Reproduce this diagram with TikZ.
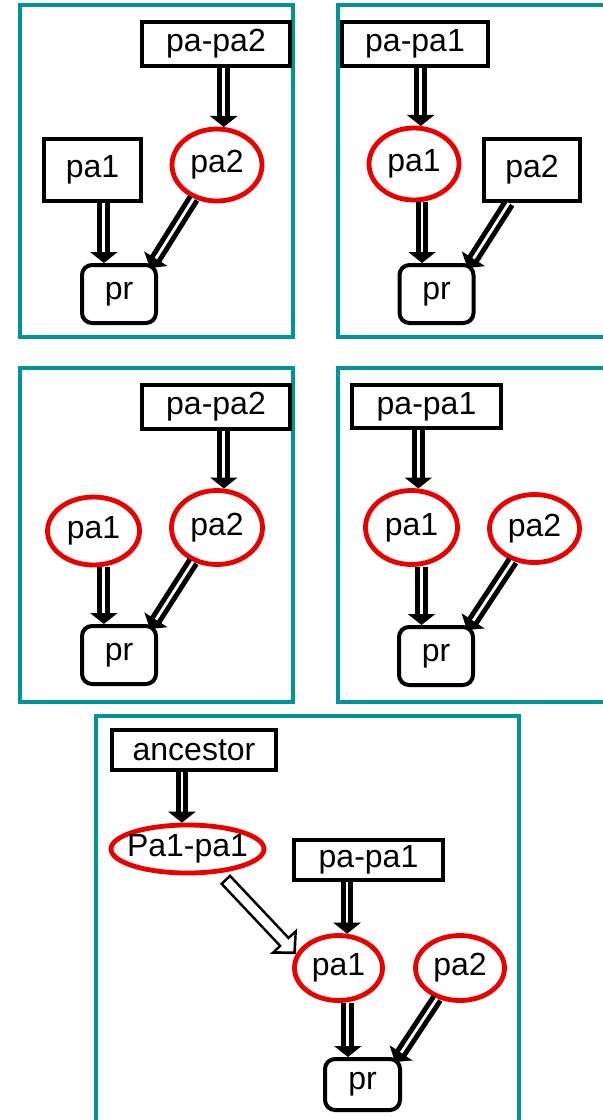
\documentclass[tikz,border=0pt]{standalone}
\usepackage{fontspec}
\setmainfont{Liberation Sans}
\usetikzlibrary{arrows.meta, shapes.geometric}
\definecolor{myteal}{RGB}{0,147,153}
\definecolor{myred}{RGB}{235,0,0}

\tikzset{
  panel/.style={draw=myteal, line width=2pt},
  box/.style={draw, line width=2pt, inner sep=0pt},
  var/.style={ellipse, draw=myred, line width=2.4pt, inner sep=0pt},
  target/.style={box, rounded corners=5pt, minimum width=37pt, minimum height=29pt},
  link/.style={double, double distance=1.4pt, line width=2.5pt,
    -{Triangle[width=13.5pt, length=5.5pt]}},
  % outlined block arrow: black body first, white inside on top
  bigout/.style={line width=7pt, shorten <=4pt,
    -{Triangle[width=18pt, length=9pt]}},
  bigin/.style={white, line width=4.4pt, shorten <=5.3pt, shorten >=1.85pt,
    -{Triangle[width=11.7pt, length=5.9pt]}}
}

\begin{document}
\begin{tikzpicture}[x=0.5pt, y=-0.5pt, font=\fontsize{16}{19}\selectfont]
\useasboundingbox (0,0) rectangle (603,1120);
\clip (0,0) rectangle (603,1120);

% panel frames
\draw[panel] (20,5) rectangle (293,337);
\draw[panel] (338,5) rectangle (640,337);
\draw[panel] (20,368) rectangle (293,702);
\draw[panel] (338,368) rectangle (640,702);
\draw[panel] (96,716) rectangle (519,1140);

% top left
\begin{scope}[name prefix=a-]
\node[box, minimum width=74pt, minimum height=22pt] (papa2) at (216,44) {pa-pa2};
\node[box, minimum width=48.5pt, minimum height=31pt] (pa1) at (92.5,170) {pa1};
\node[var, minimum width=45pt, minimum height=36pt] (pa2) at (217,165) {pa2};
\node[target] (pr) at (119,294) {pr};
\draw[link] (pa2.80 |- papa2.south) -- (pa2.80);
\draw[link] (pr.116 |- pa1.south) -- (pr.116);
\draw[link] (pa2.235) -- ([xshift=-4pt, yshift=-2.5pt]pr.north east);
\end{scope}

% top right
\begin{scope}[name prefix=b-]
\node[box, minimum width=73pt, minimum height=22pt] (papa1) at (415,44) {pa-pa1};
\node[var, minimum width=45pt, minimum height=36pt] (pa1) at (414,164) {pa1};
\node[box, minimum width=48pt, minimum height=31pt] (pa2) at (532,170) {pa2};
\node[target] (pr) at (436.5,294) {pr};
\draw[link] (pa1.80 |- papa1.south) -- (pa1.80);
\draw[link] (pr.115 |- pa1.south) -- (pr.115);
\draw[link] (pa2.235) -- ([xshift=-4pt, yshift=-2.5pt]pr.north east);
\end{scope}

% middle left
\begin{scope}[name prefix=c-]
\node[box, minimum width=74pt, minimum height=22pt] (papa2) at (216,407) {pa-pa2};
\node[var, minimum width=46pt, minimum height=34pt] (pa1) at (93.5,531) {pa1};
\node[var, minimum width=45.5pt, minimum height=37pt] (pa2) at (217,527.5) {pa2};
\node[target] (pr) at (119,655) {pr};
\draw[link] (pa2.80 |- papa2.south) -- (pa2.80);
\draw[link] (pr.116 |- pa1.south) -- (pr.116);
\draw[link] (pa2.235) -- ([xshift=-4pt, yshift=-2.5pt]pr.north east);
\end{scope}

% middle right
\begin{scope}[name prefix=d-]
\node[box, minimum width=74.5pt, minimum height=21.5pt] (papa1) at (426.5,406.5) {pa-pa1};
\node[var, minimum width=46pt, minimum height=37pt] (pa1) at (411.5,527.5) {pa1};
\node[var, minimum width=45pt, minimum height=34pt] (pa2) at (534.5,528.5) {pa2};
\node[target] (pr) at (436,656) {pr};
\draw[link] (pa1.80 |- papa1.south) -- (pa1.80);
\draw[link] (pr.115 |- pa1.south) -- (pr.115);
\draw[link] (pa2.236) -- ([xshift=-4pt, yshift=-2.5pt]pr.north east);
\end{scope}

% bottom
\begin{scope}[name prefix=e-]
\node[box, minimum width=82pt, minimum height=20pt] (anc) at (194,750) {ancestor};
\node[var, inner xsep=-3.2pt, minimum width=75pt, minimum height=24pt] (pa1pa1) at (187.5,849) {Pa1-pa1};
\node[box, minimum width=74.5pt, minimum height=20pt] (papa1) at (368.5,860) {pa-pa1};
\node[var, minimum width=44pt, minimum height=32.5pt] (pa1) at (338.5,968) {pa1};
\node[var, minimum width=44.5pt, minimum height=32.5pt] (pa2) at (460,968) {pa2};
\node[target, minimum width=37.5pt, minimum height=25.5pt] (pr) at (362.5,1084.5) {pr};
\draw[link] (pa1pa1.102 |- anc.south) -- (pa1pa1.102);
\draw[bigout] (pa1pa1.-37) -- (pa1.162);
\draw[bigin] (pa1pa1.-37) -- (pa1.162);
\draw[link] (pa1.76 |- papa1.south) -- (pa1.76);
\draw[link] (pr.118 |- pa1.south) -- (pr.118);
\draw[link] (pa2.233) -- ([xshift=-3.5pt, yshift=-2.5pt]pr.north east);
\end{scope}
\end{tikzpicture}
\end{document}
